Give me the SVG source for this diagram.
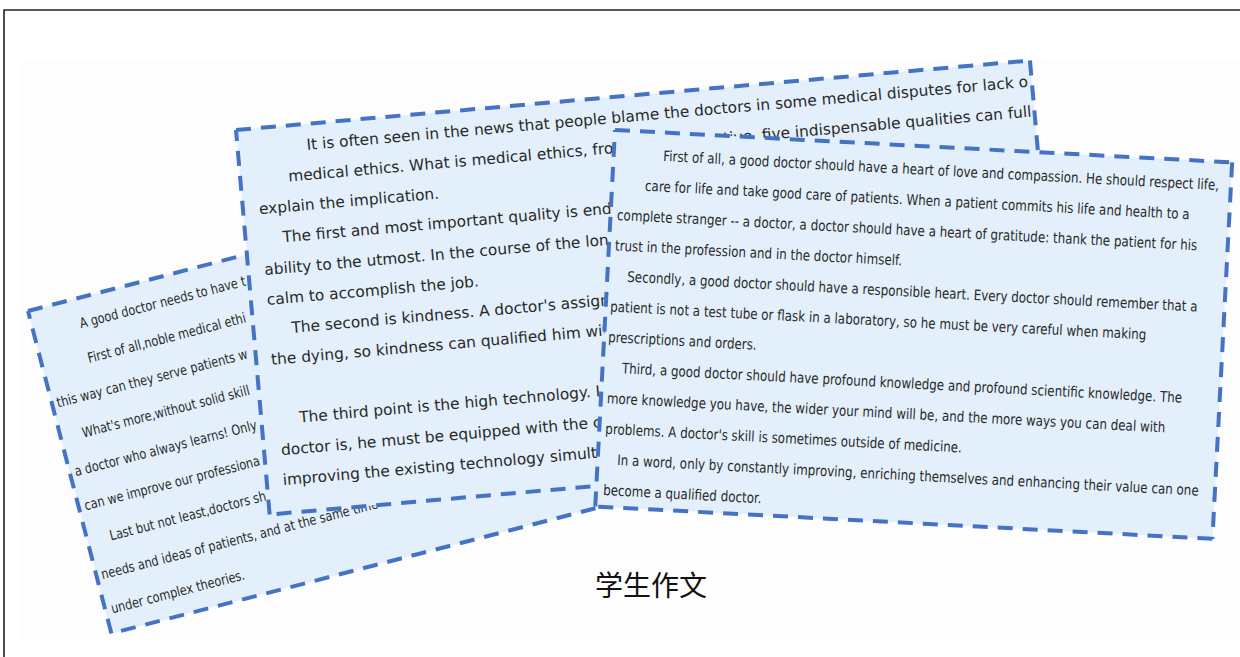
<svg xmlns="http://www.w3.org/2000/svg" width="1240" height="657" viewBox="0 0 1240 657">
<style>
.bg{fill:#fdfdfd}
.frame{fill:none;stroke:#222;stroke-width:1.6}
.cardfill{fill:#e3f0fb}
.cardedge{fill:none;stroke:#4472c4;stroke-width:4;stroke-dasharray:15 10}
.tA{font-family:"DejaVu Sans",Verdana,sans-serif;font-size:14px;fill:#2a2a2a}
.tB{font-family:"DejaVu Sans",Verdana,sans-serif;font-size:15.4px;fill:#2a2a2a}
.tC{font-family:"DejaVu Sans",Verdana,sans-serif;font-size:14.6px;fill:#2a2a2a}
.cap{font-family:"Noto Sans CJK SC","Noto Sans CJK JP",sans-serif;font-size:28px;fill:#111}
</style>
<defs>
<clipPath id="clipB" clipPathUnits="userSpaceOnUse"><rect x="0" y="0" width="797" height="386"/></clipPath>
<clipPath id="clipA" clipPathUnits="userSpaceOnUse"><rect x="0" y="0" width="525" height="333"/></clipPath>
</defs>
<rect class="bg" x="22" y="60" width="1218" height="580"/>
<path class="frame" d="M4,657 V10 H1240"/>
<g id="connectors"/>
<g id="card-a" transform="translate(28,311) rotate(-14.5)">
<rect class="cardfill" x="0" y="0" width="525" height="333"/>
<path class="cardedge" d="M0,0H525 M525,0V333 M525,333H0 M0,333V0"/>
<g clip-path="url(#clipA)">
<g class="tA" transform="scale(0.806,1)">
<text x="58.3" y="30">A good doctor needs to have t</text>
<text x="57.1" y="65.5">First of all,noble medical ethi</text>
<text x="6.2" y="101">this way can they serve patients w</text>
<text x="27.3" y="136.5">What's more,without solid skill</text>
<text x="6.2" y="172">a doctor who always learns! Only</text>
<text x="7.4" y="207.5">can we improve our professiona</text>
<text x="28.5" y="243">Last but not least,doctors sh</text>
<text x="6.2" y="278.5">needs and ideas of patients, and at the same time</text>
<text x="7.4" y="314">under complex theories.</text>
</g>
</g>
</g>
<g id="card-b" transform="translate(236,130) rotate(-5)">
<rect class="cardfill" x="0" y="0" width="797" height="386"/>
<path class="cardedge" d="M0,0H797 M797,0V386 M797,386H0 M0,386V0"/>
<g class="tB" clip-path="url(#clipB)">
<text x="69" y="26">It is often seen in the news that people blame the doctors in some medical disputes for lack o</text>
<text x="48" y="56">medical ethics. What is medical ethics, fro</text>
<text x="794" y="56" text-anchor="end">tive. five indispensable qualities can full</text>
<text x="16" y="86">explain the implication.</text>
<text x="37" y="116">The first and most important quality is end</text>
<text x="16" y="147">ability to the utmost. In the course of the lon</text>
<text x="16" y="177">calm to accomplish the job.</text>
<text x="38" y="207">The second is kindness. A doctor's assign</text>
<text x="15" y="237">the dying, so kindness can qualified him wit</text>
<text x="38" y="297">The third point is the high technology. I</text>
<text x="17" y="328">doctor is, he must be equipped with the c</text>
<text x="16" y="358">improving the existing technology simulta</text>
</g>
</g>
<g id="card-c" transform="translate(615,130) rotate(3)">
<rect class="cardfill" x="0" y="0" width="618" height="377"/>
<path class="cardedge" d="M0,0H618 M618,0V377 M618,377H0 M0,377V0"/>
<g class="tC" transform="scale(0.816,1)">
<text x="60.7" y="28.5">First of all, a good doctor should have a heart of love and compassion. He should respect life,</text>
<text x="40.4" y="59.1">care for life and take good care of patients. When a patient commits his life and health to a</text>
<text x="8" y="89.7">complete stranger -- a doctor, a doctor should have a heart of gratitude: thank the patient for his</text>
<text x="7.4" y="120.3">trust in the profession and in the doctor himself.</text>
<text x="24.5" y="150.9">Secondly, a good doctor should have a responsible heart. Every doctor should remember that a</text>
<text x="5.5" y="181.5">patient is not a test tube or flask in a laboratory, so he must be very careful when making</text>
<text x="4.9" y="212.1">prescriptions and orders.</text>
<text x="23.9" y="242.7">Third, a good doctor should have profound knowledge and profound scientific knowledge. The</text>
<text x="7.4" y="273.3">more knowledge you have, the wider your mind will be, and the more ways you can deal with</text>
<text x="7.4" y="303.9">problems. A doctor's skill is sometimes outside of medicine.</text>
<text x="23.9" y="334.5">In a word, only by constantly improving, enriching themselves and enhancing their value can one</text>
<text x="8.6" y="365.1">become a qualified doctor.</text>
</g>
</g>
<g id="caption">
<text class="cap" x="651" y="596" text-anchor="middle">学生作文</text>
</g>
</svg>
